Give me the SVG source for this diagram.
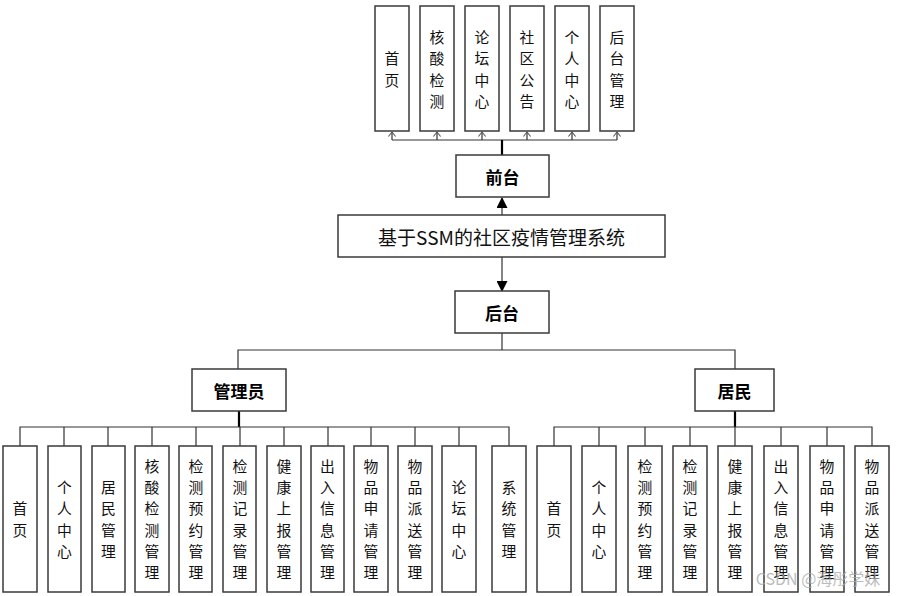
<svg xmlns="http://www.w3.org/2000/svg" width="901" height="596" viewBox="0 0 901 596">
<defs>
<marker id="open" viewBox="0 0 10 10" refX="9" refY="5" markerWidth="9" markerHeight="9" orient="auto" markerUnits="userSpaceOnUse">
<path d="M4,1 L9,5 L4,9" fill="none" stroke="#555" stroke-width="1.2"/>
</marker>
<marker id="fill" viewBox="0 0 10 10" refX="9" refY="5" markerWidth="12" markerHeight="11" orient="auto" markerUnits="userSpaceOnUse">
<path d="M0,0 L10,5 L0,10 Z" fill="#000"/>
</marker>
<style>
.box{fill:#fff;stroke:#3a3a3a;stroke-width:1.5}
.t{font-family:"Noto Sans CJK SC","Noto Sans",sans-serif;font-size:14.8px;fill:#111;text-anchor:middle;dominant-baseline:central}
.b{font-family:"Noto Sans CJK SC","Noto Sans",sans-serif;font-size:17px;font-weight:bold;fill:#000;text-anchor:middle;dominant-baseline:central}
.ln{fill:none;stroke:#333;stroke-width:1.2}
.thick{fill:none;stroke:#000;stroke-width:2.2}
</style>
</defs>
<g id="connectors">
<path class="ln" d="M392,140 H617"/>
<path class="ln" d="M392,140 V132" marker-end="url(#open)"/>
<path class="ln" d="M437,140 V132" marker-end="url(#open)"/>
<path class="ln" d="M482,140 V132" marker-end="url(#open)"/>
<path class="ln" d="M527,140 V132" marker-end="url(#open)"/>
<path class="ln" d="M572,140 V132" marker-end="url(#open)"/>
<path class="ln" d="M617,140 V132" marker-end="url(#open)"/>
<path class="thick" d="M502,155 V140"/>
<path class="ln" d="M502,215 V198" marker-end="url(#fill)"/>
<path class="ln" d="M502,257 V291" marker-end="url(#fill)"/>
<path class="ln" d="M502,333 V350 M238,369 V350 H735 V369"/>
<path class="thick" d="M239,411 V427 M735,411 V427"/>
<path class="ln" d="M20,446 V427 H509 V446 M64,427 V446 M108,427 V446 M152,427 V446 M196,427 V446 M240,427 V446 M284,427 V446 M328,427 V446 M371,427 V446 M415,427 V446 M459,427 V446"/>
<path class="ln" d="M554,446 V427 H872 V446 M599,427 V446 M645,427 V446 M690,427 V446 M735,427 V446 M781,427 V446 M827,427 V446"/>
</g>
<g id="top-shouye"><rect class="box" x="375" y="6" width="34" height="125"/><text class="t"><tspan x="392" y="57">首</tspan><tspan x="392" y="78.5">页</tspan></text></g>
<g id="top-hesuan"><rect class="box" x="420" y="6" width="34" height="125"/><text class="t"><tspan x="437" y="35.5">核</tspan><tspan x="437" y="57">酸</tspan><tspan x="437" y="78.5">检</tspan><tspan x="437" y="100">测</tspan></text></g>
<g id="top-luntan"><rect class="box" x="465" y="6" width="34" height="125"/><text class="t"><tspan x="482" y="35.5">论</tspan><tspan x="482" y="57">坛</tspan><tspan x="482" y="78.5">中</tspan><tspan x="482" y="100">心</tspan></text></g>
<g id="top-shequ"><rect class="box" x="510" y="6" width="34" height="125"/><text class="t"><tspan x="527" y="35.5">社</tspan><tspan x="527" y="57">区</tspan><tspan x="527" y="78.5">公</tspan><tspan x="527" y="100">告</tspan></text></g>
<g id="top-geren"><rect class="box" x="555" y="6" width="34" height="125"/><text class="t"><tspan x="572" y="35.5">个</tspan><tspan x="572" y="57">人</tspan><tspan x="572" y="78.5">中</tspan><tspan x="572" y="100">心</tspan></text></g>
<g id="top-houtai"><rect class="box" x="600" y="6" width="34" height="125"/><text class="t"><tspan x="617" y="35.5">后</tspan><tspan x="617" y="57">台</tspan><tspan x="617" y="78.5">管</tspan><tspan x="617" y="100">理</tspan></text></g>
<g id="qiantai"><rect class="box" x="456" y="155" width="93" height="42"/><text class="b" x="502.5" y="176">前台</text></g>
<g id="system"><rect class="box" x="338" y="215" width="327" height="42"/><text x="501.5" y="236" style="font-family:'Noto Sans CJK SC',sans-serif;font-size:19px;fill:#111;text-anchor:middle;dominant-baseline:central">基于SSM的社区疫情管理系统</text></g>
<g id="houtai"><rect class="box" x="455" y="291" width="94" height="42"/><text class="b" x="502" y="312">后台</text></g>
<g id="admin"><rect class="box" x="192" y="369" width="94" height="42"/><text class="b" x="239" y="390">管理员</text></g>
<g id="resident"><rect class="box" x="695" y="369" width="79" height="42"/><text class="b" x="734.5" y="390">居民</text></g>
<g id="a1"><rect class="box" x="3" y="446" width="34" height="146"/><text class="t"><tspan x="20" y="507">首</tspan><tspan x="20" y="528.5">页</tspan></text></g>
<g id="a2"><rect class="box" x="48" y="446" width="33" height="146"/><text class="t"><tspan x="64.5" y="486">个</tspan><tspan x="64.5" y="507">人</tspan><tspan x="64.5" y="528.5">中</tspan><tspan x="64.5" y="550">心</tspan></text></g>
<g id="a3"><rect class="box" x="92" y="446" width="33" height="146"/><text class="t"><tspan x="108.5" y="486">居</tspan><tspan x="108.5" y="507">民</tspan><tspan x="108.5" y="528.5">管</tspan><tspan x="108.5" y="550">理</tspan></text></g>
<g id="a4"><rect class="box" x="135" y="446" width="34" height="146"/><text class="t"><tspan x="152" y="465">核</tspan><tspan x="152" y="486">酸</tspan><tspan x="152" y="507">检</tspan><tspan x="152" y="528.5">测</tspan><tspan x="152" y="550">管</tspan><tspan x="152" y="571">理</tspan></text></g>
<g id="a5"><rect class="box" x="179" y="446" width="33" height="146"/><text class="t"><tspan x="196" y="465">检</tspan><tspan x="196" y="486">测</tspan><tspan x="196" y="507">预</tspan><tspan x="196" y="528.5">约</tspan><tspan x="196" y="550">管</tspan><tspan x="196" y="571">理</tspan></text></g>
<g id="a6"><rect class="box" x="223" y="446" width="33" height="146"/><text class="t"><tspan x="240" y="465">检</tspan><tspan x="240" y="486">测</tspan><tspan x="240" y="507">记</tspan><tspan x="240" y="528.5">录</tspan><tspan x="240" y="550">管</tspan><tspan x="240" y="571">理</tspan></text></g>
<g id="a7"><rect class="box" x="267" y="446" width="34" height="146"/><text class="t"><tspan x="284" y="465">健</tspan><tspan x="284" y="486">康</tspan><tspan x="284" y="507">上</tspan><tspan x="284" y="528.5">报</tspan><tspan x="284" y="550">管</tspan><tspan x="284" y="571">理</tspan></text></g>
<g id="a8"><rect class="box" x="311" y="446" width="33" height="146"/><text class="t"><tspan x="327.5" y="465">出</tspan><tspan x="327.5" y="486">入</tspan><tspan x="327.5" y="507">信</tspan><tspan x="327.5" y="528.5">息</tspan><tspan x="327.5" y="550">管</tspan><tspan x="327.5" y="571">理</tspan></text></g>
<g id="a9"><rect class="box" x="354" y="446" width="34" height="146"/><text class="t"><tspan x="371" y="465">物</tspan><tspan x="371" y="486">品</tspan><tspan x="371" y="507">申</tspan><tspan x="371" y="528.5">请</tspan><tspan x="371" y="550">管</tspan><tspan x="371" y="571">理</tspan></text></g>
<g id="a10"><rect class="box" x="398" y="446" width="34" height="146"/><text class="t"><tspan x="415" y="465">物</tspan><tspan x="415" y="486">品</tspan><tspan x="415" y="507">派</tspan><tspan x="415" y="528.5">送</tspan><tspan x="415" y="550">管</tspan><tspan x="415" y="571">理</tspan></text></g>
<g id="a11"><rect class="box" x="442" y="446" width="34" height="146"/><text class="t"><tspan x="459" y="486">论</tspan><tspan x="459" y="507">坛</tspan><tspan x="459" y="528.5">中</tspan><tspan x="459" y="550">心</tspan></text></g>
<g id="a12"><rect class="box" x="492" y="446" width="34" height="146"/><text class="t"><tspan x="509" y="486">系</tspan><tspan x="509" y="507">统</tspan><tspan x="509" y="528.5">管</tspan><tspan x="509" y="550">理</tspan></text></g>
<g id="r1"><rect class="box" x="537" y="446" width="34" height="146"/><text class="t"><tspan x="554" y="507">首</tspan><tspan x="554" y="528.5">页</tspan></text></g>
<g id="r2"><rect class="box" x="582" y="446" width="34" height="146"/><text class="t"><tspan x="599" y="486">个</tspan><tspan x="599" y="507">人</tspan><tspan x="599" y="528.5">中</tspan><tspan x="599" y="550">心</tspan></text></g>
<g id="r3"><rect class="box" x="628" y="446" width="34" height="146"/><text class="t"><tspan x="645" y="465">检</tspan><tspan x="645" y="486">测</tspan><tspan x="645" y="507">预</tspan><tspan x="645" y="528.5">约</tspan><tspan x="645" y="550">管</tspan><tspan x="645" y="571">理</tspan></text></g>
<g id="r4"><rect class="box" x="673" y="446" width="34" height="146"/><text class="t"><tspan x="690" y="465">检</tspan><tspan x="690" y="486">测</tspan><tspan x="690" y="507">记</tspan><tspan x="690" y="528.5">录</tspan><tspan x="690" y="550">管</tspan><tspan x="690" y="571">理</tspan></text></g>
<g id="r5"><rect class="box" x="718" y="446" width="34" height="146"/><text class="t"><tspan x="735" y="465">健</tspan><tspan x="735" y="486">康</tspan><tspan x="735" y="507">上</tspan><tspan x="735" y="528.5">报</tspan><tspan x="735" y="550">管</tspan><tspan x="735" y="571">理</tspan></text></g>
<g id="r6"><rect class="box" x="764" y="446" width="34" height="146"/><text class="t"><tspan x="781" y="465">出</tspan><tspan x="781" y="486">入</tspan><tspan x="781" y="507">信</tspan><tspan x="781" y="528.5">息</tspan><tspan x="781" y="550">管</tspan><tspan x="781" y="571">理</tspan></text></g>
<g id="r7"><rect class="box" x="810" y="446" width="34" height="146"/><text class="t"><tspan x="827" y="465">物</tspan><tspan x="827" y="486">品</tspan><tspan x="827" y="507">申</tspan><tspan x="827" y="528.5">请</tspan><tspan x="827" y="550">管</tspan><tspan x="827" y="571">理</tspan></text></g>
<g id="r8"><rect class="box" x="855" y="446" width="34" height="146"/><text class="t"><tspan x="872" y="465">物</tspan><tspan x="872" y="486">品</tspan><tspan x="872" y="507">派</tspan><tspan x="872" y="528.5">送</tspan><tspan x="872" y="550">管</tspan><tspan x="872" y="571">理</tspan></text></g>
<text x="818" y="578" style="font-family:'Noto Sans CJK SC',sans-serif;font-size:16px;fill:#aaa;fill-opacity:0.8;text-anchor:middle;dominant-baseline:central">CSDN @海彤学妹</text>
</svg>
